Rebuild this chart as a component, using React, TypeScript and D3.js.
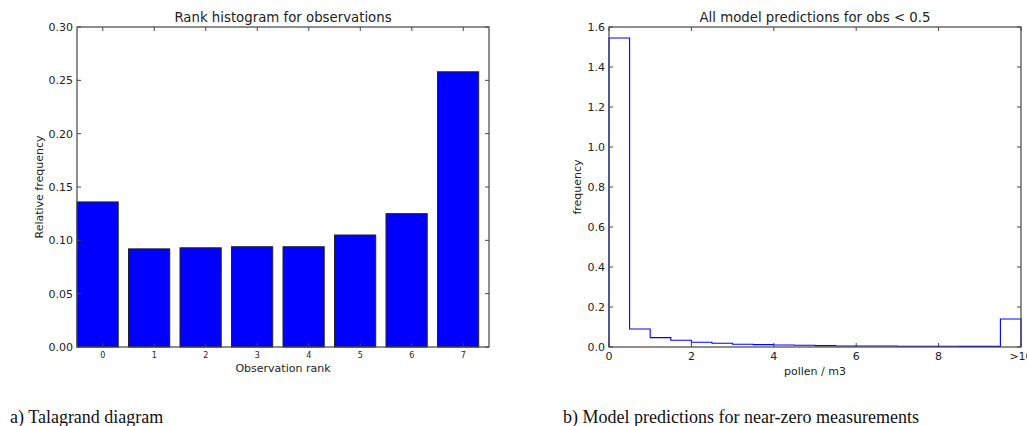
import React from "react";
import * as d3 from "d3";

const ranks = [0, 1, 2, 3, 4, 5, 6, 7];
const rankFreq = [0.136, 0.092, 0.093, 0.094, 0.094, 0.105, 0.125, 0.258];
const leftYTicks = [0, 0.05, 0.1, 0.15, 0.2, 0.25, 0.3];

const binEdges = [0, 0.5, 1, 1.5, 2, 2.5, 3, 3.5, 4, 4.5, 5, 5.5, 6, 6.5, 7, 7.5, 8, 8.5, 9, 9.5, 10];
const binFreq = [1.545, 0.09, 0.047, 0.034, 0.024, 0.019, 0.014, 0.012, 0.01, 0.009, 0.007, 0.005, 0.005, 0.005, 0.004, 0.004, 0.004, 0.003, 0.003, 0.14];
const rightXTicks = [0, 2, 4, 6, 8, 10];
const rightXLabels = ["0", "2", "4", "6", "8", ">10"];
const rightYTicks = [0, 0.2, 0.4, 0.6, 0.8, 1.0, 1.2, 1.4, 1.6];

const FONT = "DejaVu Sans, sans-serif";
const AX = "#444";

export default function App() {
  const top = 27, bottom = 347;
  const lx = d3.scaleLinear().domain([-0.5, 7.5]).range([77, 489]);
  const ly = d3.scaleLinear().domain([0, 0.3]).range([bottom, top]);
  const rx = d3.scaleLinear().domain([0, 10]).range([609, 1021]);
  const ry = d3.scaleLinear().domain([0, 1.6]).range([bottom, top]);

  const pts: [number, number][] = [];
  binFreq.forEach((v, i) => {
    pts.push([binEdges[i], v]);
    pts.push([binEdges[i + 1], v]);
  });
  const stepLine = d3
    .line<[number, number]>()
    .x((d) => rx(d[0]))
    .y((d) => ry(d[1]))([[0, 0], ...pts, [10, 0]]);

  const tl = 4;
  return (
    <svg
      width={1027}
      height={426}
      style={{ position: "absolute", left: 0, top: 0, background: "#fff" }}
    >
      <rect width={1027} height={426} fill="#fff" />
      <g>
        {ranks.map((r, i) => (
          <rect
            key={r}
            x={lx(r - 0.5)}
            y={ly(rankFreq[i])}
            width={lx(r + 0.3) - lx(r - 0.5)}
            height={ly(0) - ly(rankFreq[i])}
            fill="#0000ff"
            stroke="#222"
            strokeWidth={1}
          />
        ))}
        <rect x={77} y={top} width={412} height={bottom - top} fill="none" stroke={AX} strokeWidth={1.2} />
        {leftYTicks.map((t) => (
          <g key={t}>
            <line x1={77} x2={77 + tl} y1={ly(t)} y2={ly(t)} stroke={AX} />
            <line x1={489} x2={489 - tl} y1={ly(t)} y2={ly(t)} stroke={AX} />
            <text x={73} y={ly(t) + 4} textAnchor="end" fontFamily={FONT} fontSize={11} fill="#222">
              {t.toFixed(2)}
            </text>
          </g>
        ))}
        {ranks.map((r) => (
          <g key={r}>
            <line x1={lx(r)} x2={lx(r)} y1={bottom} y2={bottom - tl} stroke={AX} />
            <line x1={lx(r)} x2={lx(r)} y1={top} y2={top + tl} stroke={AX} />
            <text x={lx(r)} y={358} textAnchor="middle" fontFamily={FONT} fontSize={8} fill="#222">
              {r}
            </text>
          </g>
        ))}
        <text x={283} y={22} textAnchor="middle" fontFamily={FONT} fontSize={13.3} fill="#222">
          Rank histogram for observations
        </text>
        <text x={283} y={372} textAnchor="middle" fontFamily={FONT} fontSize={11} fill="#222">
          Observation rank
        </text>
        <text
          transform={`translate(43,${(top + bottom) / 2}) rotate(-90)`}
          textAnchor="middle"
          fontFamily={FONT}
          fontSize={11}
          fill="#222"
        >
          Relative frequency
        </text>
        <text x={10} y={423} fontFamily="Liberation Serif, Times New Roman, serif" fontSize={18} fill="#111">
          a) Talagrand diagram
        </text>
      </g>
      <g>
        <path d={stepLine ?? ""} fill="none" stroke="#0000ff" strokeWidth={1.1} />
        <rect x={609} y={top} width={412} height={bottom - top} fill="none" stroke={AX} strokeWidth={1.2} />
        {rightYTicks.map((t) => (
          <g key={t}>
            <line x1={609} x2={609 + tl} y1={ry(t)} y2={ry(t)} stroke={AX} />
            <line x1={1021} x2={1021 - tl} y1={ry(t)} y2={ry(t)} stroke={AX} />
            <text x={605} y={ry(t) + 4} textAnchor="end" fontFamily={FONT} fontSize={11} fill="#222">
              {t.toFixed(1)}
            </text>
          </g>
        ))}
        {rightXTicks.map((t, i) => (
          <g key={t}>
            <line x1={rx(t)} x2={rx(t)} y1={bottom} y2={bottom - tl} stroke={AX} />
            <line x1={rx(t)} x2={rx(t)} y1={top} y2={top + tl} stroke={AX} />
            <text x={rx(t)} y={360} textAnchor="middle" fontFamily={FONT} fontSize={11} fill="#222">
              {rightXLabels[i]}
            </text>
          </g>
        ))}
        <text x={815} y={22} textAnchor="middle" fontFamily={FONT} fontSize={13.3} fill="#222">
          All model predictions for obs &lt; 0.5
        </text>
        <text x={815} y={375} textAnchor="middle" fontFamily={FONT} fontSize={11} fill="#222">
          pollen / m3
        </text>
        <text
          transform={`translate(581,${(top + bottom) / 2}) rotate(-90)`}
          textAnchor="middle"
          fontFamily={FONT}
          fontSize={11}
          fill="#222"
        >
          frequency
        </text>
        <text x={563} y={423} fontFamily="Liberation Serif, Times New Roman, serif" fontSize={18} fill="#111">
          b) Model predictions for near-zero measurements
        </text>
      </g>
    </svg>
  );
}
